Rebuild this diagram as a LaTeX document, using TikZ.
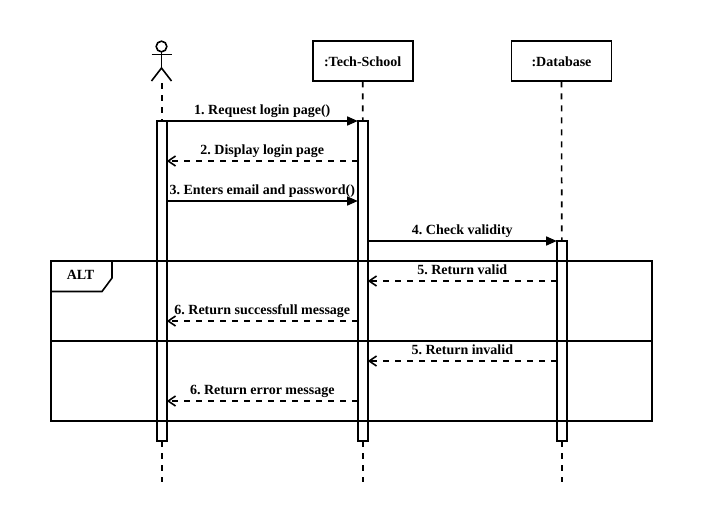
\documentclass[tikz,border=0pt]{standalone}
\usepackage{fontspec}
\setmainfont{Liberation Serif}
\usetikzlibrary{arrows.meta,positioning}
\newcommand{\msgfont}{\bfseries\fontsize{10.5}{12}\selectfont\frenchspacing}
\tikzset{
	lifeline/.style={line width=1.2pt,dash pattern=on 4.5pt off 4.5pt},
	lifebox/.style={draw,line width=1.3pt,minimum width=75pt,minimum height=30pt,outer sep=0pt,font=\msgfont},
	lifebar/.style={draw,line width=1.3pt,fill=white,minimum width=7.5pt,outer sep=0pt,inner sep=0pt},
	actorline/.style={line width=1.2pt},
	framelineb/.style={line width=1.2pt},
	callmsg/.style={line width=1.2pt,-{Triangle[length=8pt,width=6.75pt]}},
	returnmsg/.style={line width=1.2pt,dash pattern=on 4.5pt off 4.5pt,-{Straight Barb[length=5.5pt,width=7.5pt,line width=1.2pt]}},
	msglabel/.style={midway,above,inner sep=0pt,text depth=0pt,yshift=4.5pt,font=\msgfont}
}
\begin{document}
\begin{tikzpicture}[x=0.75pt,y=-0.75pt]

	\useasboundingbox (0,0) rectangle (702,522);

	\node[lifebox] (school) at (362.7,61.3) {:Tech-School};
	\node[lifebox] (database) at (561.5,61.3) {:Database};

	\node[draw,circle,actorline,minimum size=8pt,inner sep=0pt,outer sep=0pt] (actorhead) at (161.5,46.5) {};
	\coordinate (actorhip) at (161.5,68);
	\coordinate (actorleft) at (151.5,81);
	\coordinate (actorright) at (171.5,81);
	\coordinate (armleft) at (151.5,54.5);
	\coordinate (armright) at (171.5,54.5);
	\draw[actorline] (actorhead) -- (actorhip);
	\draw[actorline] (armleft) -- (armright);
	\draw[actorline] (actorleft) -- (actorhip) -- (actorright);

	\node[lifebar,minimum height=240pt] (userbar) at (161.8,281) {};
	\node[lifebar,minimum height=240pt] (schoolbar) at (362.8,281) {};
	\node[lifebar,minimum height=150pt] (databar) at (561.8,341) {};

	\coordinate (actorend) at (161.8,83);
	\coordinate (userend) at (161.8,482);
	\coordinate (schoolend) at (362.8,482);
	\coordinate (dataend) at (561.8,482);

	\draw[lifeline] (actorend) -- (userbar.north);
	\draw[lifeline] (userbar.south) -- (userend);
	\draw[lifeline] (school.south) -- (schoolbar.north);
	\draw[lifeline] (schoolbar.south) -- (schoolend);
	\draw[lifeline] (database.south) -- (databar.north);
	\draw[lifeline] (databar.south) -- (dataend);

	\node[draw,framelineb,minimum width=450.75pt,minimum height=120pt,outer sep=0pt] (altframe) at (351.5,341) {};
	\coordinate (tabtop) at (112,261);
	\coordinate (tabside) at (112,278);
	\coordinate (tabcut) at (102,291.5);
	\coordinate (tabbottom) at (51,291.5);
	\draw[framelineb] (tabtop) -- (tabside) -- (tabcut) -- (tabbottom);
	\node[font=\msgfont] (alttext) at (80.5,275) {ALT};
	\coordinate (divleft) at (51,341);
	\coordinate (divright) at (652,341);
	\draw[framelineb] (divleft) -- (divright);

	\coordinate (row1) at (0,121);
	\coordinate (row2) at (0,161);
	\coordinate (row3) at (0,201);
	\coordinate (row4) at (0,241);
	\coordinate (row5) at (0,281);
	\coordinate (row6) at (0,321);
	\coordinate (row7) at (0,361);
	\coordinate (row8) at (0,401);

	\draw[callmsg] (userbar.east |- row1) -- (schoolbar.west |- row1) node[msglabel] (msg1) {1. Request login page()};
	\draw[returnmsg] (schoolbar.west |- row2) -- (userbar.east |- row2) node[msglabel] (msg2) {2. Display login page};
	\draw[callmsg] (userbar.east |- row3) -- (schoolbar.west |- row3) node[msglabel] (msg3) {3. Enters email and password()};
	\draw[callmsg] (schoolbar.east |- row4) -- (databar.west |- row4) node[msglabel] (msg4) {4. Check validity};
	\draw[returnmsg] (databar.west |- row5) -- (schoolbar.east |- row5) node[msglabel] (msg5) {5. Return valid};
	\draw[returnmsg] (schoolbar.west |- row6) -- (userbar.east |- row6) node[msglabel] (msg6) {6. Return successfull message};
	\draw[returnmsg] (databar.west |- row7) -- (schoolbar.east |- row7) node[msglabel] (msg7) {5. Return invalid};
	\draw[returnmsg] (schoolbar.west |- row8) -- (userbar.east |- row8) node[msglabel] (msg8) {6. Return error message};

\end{tikzpicture}
\end{document}
